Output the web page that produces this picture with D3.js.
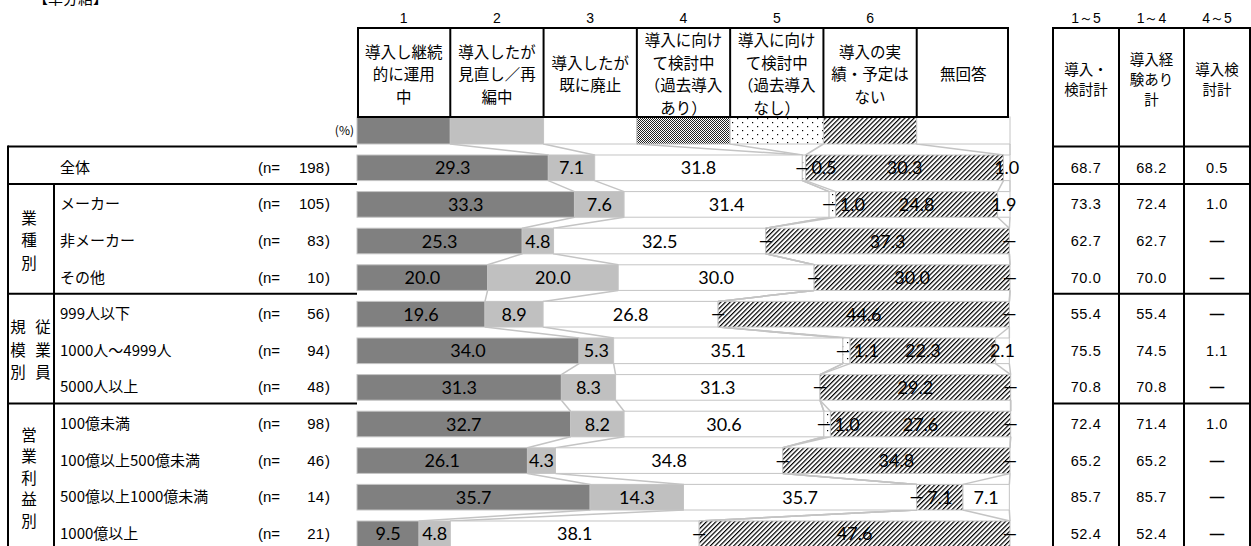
<!DOCTYPE html>
<html>
<head>
<meta charset="utf-8">
<script src="https://cdn.jsdelivr.net/npm/d3@7"></script>
<style>
  body { margin: 0; background: #fff; }
  svg { display: block; }
  .jp { font-family: "Noto Sans CJK JP", sans-serif; fill: #000; }
  .num { font-family: "Liberation Sans", Arial, sans-serif; fill: #000; }
  .val { font-family: Lato, "Open Sans", sans-serif; font-size: 18px; fill: #000; }
</style>
</head>
<body>
<div id="chart"></div>
<script>
// rows of the table (top to bottom)
const categories = ["全体", "メーカー", "非メーカー", "その他", "999人以下", "1000人～4999人", "5000人以上",
  "100億未満", "100億以上500億未満", "500億以上1000億未満", "1000億以上"];
const nValues = [198, 105, 83, 10, 56, 94, 48, 98, 46, 14, 21];

// answer shares (%) for each option
const s1 = [29.3, 33.3, 25.3, 20.0, 19.6, 34.0, 31.3, 32.7, 26.1, 35.7, 9.5];
const s2 = [7.1, 7.6, 4.8, 20.0, 8.9, 5.3, 8.3, 8.2, 4.3, 14.3, 4.8];
const s3 = [31.8, 31.4, 32.5, 30.0, 26.8, 35.1, 31.3, 30.6, 34.8, 35.7, 38.1];
const s4 = [0, 0, 0, 0, 0, 0, 0, 0, 0, 0, 0];
const s5 = [0.5, 1.0, 0, 0, 0, 1.1, 0, 1.0, 0, 0, 0];
const s6 = [30.3, 24.8, 37.3, 30.0, 44.6, 22.3, 29.2, 27.6, 34.8, 7.1, 47.6];
const s7 = [1.0, 1.9, 0, 0, 0, 2.1, 0, 0, 0, 7.1, 0];

// summary columns on the right (null = none)
const sum15 = [68.7, 73.3, 62.7, 70.0, 55.4, 75.5, 70.8, 72.4, 65.2, 85.7, 52.4];
const sum14 = [68.2, 72.4, 62.7, 70.0, 55.4, 74.5, 70.8, 71.4, 65.2, 85.7, 52.4];
const sum45 = [0.5, 1.0, null, null, null, 1.1, null, 1.0, null, null, null];

const optionNumbers = ["1", "2", "3", "4", "5", "6", ""];
const optionLabels = [
  ["導入し継続", "的に運用", "中"],
  ["導入したが", "見直し／再", "編中"],
  ["導入したが", "既に廃止"],
  ["導入に向け", "て検討中", "（過去導入", "あり）"],
  ["導入に向け", "て検討中", "（過去導入", "なし）"],
  ["導入の実", "績・予定は", "ない"],
  ["無回答"]
];
const sumNumbers = ["1～5", "1～4", "4～5"];
const sumLabels = [["導入・", "検討計"], ["導入経", "験あり", "計"], ["導入検", "討計"]];

const groups = [
  { cols: [["業", "種", "別"]], first: 1, last: 3 },
  { cols: [["規", "模", "別"], ["従", "業", "員"]], first: 4, last: 6 },
  { cols: [["営", "業", "利", "益", "別"]], first: 7, last: 10 }
];

const W = 1251, H = 546;
const series = [s1, s2, s3, s4, s5, s6, s7];
const fills = ["#808080", "#c0c0c0", "#ffffff", "url(#checker)", "url(#dots)", "url(#hatch)", "#ffffff"];

const svg = d3.select("#chart").append("svg")
  .attr("width", W).attr("height", H);

// patterns
const defs = svg.append("defs");
const checker = defs.append("pattern").attr("id", "checker")
  .attr("patternUnits", "userSpaceOnUse").attr("width", 2).attr("height", 2);
checker.append("rect").attr("width", 2).attr("height", 2).attr("fill", "#fff");
checker.append("rect").attr("width", 1).attr("height", 1).attr("fill", "#222");
checker.append("rect").attr("x", 1).attr("y", 1).attr("width", 1).attr("height", 1).attr("fill", "#222");

const dots = defs.append("pattern").attr("id", "dots")
  .attr("patternUnits", "userSpaceOnUse").attr("width", 10).attr("height", 8);
dots.append("rect").attr("width", 10).attr("height", 8).attr("fill", "#fff");
dots.append("rect").attr("x", 2).attr("y", 2).attr("width", 1.2).attr("height", 1.2).attr("fill", "#000");
dots.append("rect").attr("x", 7).attr("y", 6).attr("width", 1.2).attr("height", 1.2).attr("fill", "#000");

const hatch = defs.append("pattern").attr("id", "hatch")
  .attr("patternUnits", "userSpaceOnUse").attr("width", 3.3).attr("height", 3.3)
  .attr("patternTransform", "rotate(45)");
hatch.append("rect").attr("width", 3.3).attr("height", 3.3).attr("fill", "#fff");
hatch.append("line").attr("x1", 0.6).attr("y1", 0).attr("x2", 0.6).attr("y2", 3.3)
  .attr("stroke", "#000").attr("stroke-width", 1.2);

// scales
const x = d3.scaleLinear().domain([0, 100]).range([357, 1010]);
const y = d3.scaleBand().domain(d3.range(categories.length))
  .range([149.5, 552.1]).paddingInner(0.3).paddingOuter(0.15);
const bw = y.bandwidth();

// stacked data
const rows = categories.map((c, i) => {
  let acc = 0;
  const segs = series.map((s, k) => {
    const seg = { k: k, v: s[i], x0: acc, x1: acc + s[i] };
    acc += s[i];
    return seg;
  });
  return { i: i, segs: segs };
});

// legend row (equal cells under the header)
const legendTop = 117, legendBottom = 144;
const legendCells = d3.range(7).map(k => ({ k: k, x0: k * 100 / 7, x1: (k + 1) * 100 / 7 }));

// connector lines between neighbouring bars
const conn = svg.append("g");
const boundaries = d3.range(1, 8);
function rowEdges(r) { return r.segs.map(s => s.x1); }
boundaries.forEach(b => {
  conn.append("line")
    .attr("x1", x(legendCells[b - 1].x1)).attr("y1", legendBottom)
    .attr("x2", x(rowEdges(rows[0])[b - 1])).attr("y2", y(0))
    .attr("stroke", "#c4c4c4").attr("stroke-width", 1.5);
  for (let i = 0; i < rows.length - 1; i++) {
    conn.append("line")
      .attr("x1", x(rowEdges(rows[i])[b - 1])).attr("y1", y(i) + bw)
      .attr("x2", x(rowEdges(rows[i + 1])[b - 1])).attr("y2", y(i + 1))
      .attr("stroke", "#c4c4c4").attr("stroke-width", 1.5);
  }
});

// legend cells
svg.append("g").selectAll("rect").data(legendCells).join("rect")
  .attr("x", d => x(d.x0)).attr("y", legendTop)
  .attr("width", d => x(d.x1) - x(d.x0)).attr("height", legendBottom - legendTop)
  .attr("fill", d => fills[d.k]).attr("stroke", "#c4c4c4").attr("stroke-width", 1);

// bars
const barG = svg.append("g").selectAll("g").data(rows).join("g");
barG.selectAll("rect").data(r => r.segs.filter(s => s.v > 0).map(s => Object.assign({ i: r.i }, s)))
  .join("rect")
  .attr("x", d => x(d.x0)).attr("y", d => y(d.i))
  .attr("width", d => x(d.x1) - x(d.x0)).attr("height", bw)
  .attr("fill", d => fills[d.k]).attr("stroke", "#c4c4c4").attr("stroke-width", 1);

// value labels
rows.forEach(r => {
  const cy = y(r.i) + bw / 2;
  const seen = new Set();
  r.segs.forEach((s, k) => {
    if (s.v === 0) {
      const px = Math.round(x(s.x0));
      if (seen.has(px)) return;
      seen.add(px);
      svg.append("text").attr("class", "val").attr("text-anchor", "middle")
        .attr("x", x(s.x0)).attr("y", cy + 6).text("—");
    } else {
      let cx = (x(s.x0) + x(s.x1)) / 2;
      const prev = r.segs[k - 1];
      if (s.v < 2 && prev && prev.v === 0 && k < 6) cx += 20;
      svg.append("text").attr("class", "val").attr("text-anchor", "middle")
        .attr("x", cx).attr("y", cy + 6.5).text(s.v.toFixed(1));
    }
  });
});

// header box over the bars
const hdr = svg.append("g");
const hTop = 28;
legendCells.forEach((c, k) => {
  const cx = (x(c.x0) + x(c.x1)) / 2;
  hdr.append("text").attr("class", "num").attr("font-size", 14)
    .attr("text-anchor", "middle").attr("x", cx).attr("y", 23).text(optionNumbers[k]);
  const lines = optionLabels[k];
  const t = hdr.append("text").attr("class", "jp").attr("font-size", 15.5).attr("text-anchor", "middle");
  lines.forEach((l, j) => {
    t.append("tspan").attr("x", cx)
      .attr("y", 74.5 + (j - (lines.length - 1) / 2) * 22.5 + 5.5).text(l);
  });
});
hdr.append("rect").attr("x", x(0) + 1).attr("y", hTop)
  .attr("width", x(100) - x(0) - 3).attr("height", legendTop - hTop)
  .attr("fill", "none").attr("stroke", "#000").attr("stroke-width", 2);
d3.range(1, 7).forEach(k => {
  hdr.append("line").attr("x1", x(legendCells[k].x0)).attr("x2", x(legendCells[k].x0))
    .attr("y1", hTop).attr("y2", legendTop).attr("stroke", "#000").attr("stroke-width", 2);
});
svg.append("text").attr("class", "jp").attr("font-size", 12).attr("text-anchor", "end")
  .attr("x", 354).attr("y", 135).text("(%)");

// title (cut off at the top edge, as in the source)
svg.append("text").attr("class", "jp").attr("font-size", 15).attr("x", 33).attr("y", 4).text("【単分結】");

// left table
const tbl = svg.append("g");
const tTop = 146.5, tLeft = 8, tInner = 54, tRight = 357;
const divY = i => y(i) + bw + 3.3;
tbl.append("line").attr("x1", tLeft).attr("x2", tRight).attr("y1", tTop).attr("y2", tTop)
  .attr("stroke", "#000").attr("stroke-width", 2);
tbl.append("line").attr("x1", tLeft).attr("x2", tLeft).attr("y1", tTop - 1).attr("y2", H)
  .attr("stroke", "#000").attr("stroke-width", 2);
tbl.append("line").attr("x1", tInner).attr("x2", tInner).attr("y1", divY(0)).attr("y2", H)
  .attr("stroke", "#000").attr("stroke-width", 2);
[0, 3, 6].forEach(i => {
  tbl.append("line").attr("x1", tLeft).attr("x2", tRight).attr("y1", divY(i)).attr("y2", divY(i))
    .attr("stroke", "#000").attr("stroke-width", 2);
});

categories.forEach((c, i) => {
  const cy = y(i) + bw / 2;
  tbl.append("text").attr("class", "jp").attr("font-size", 15)
    .attr("x", 60).attr("y", cy + 5).text(c);
  tbl.append("text").attr("class", "num").attr("font-size", 15)
    .attr("x", 258).attr("y", cy + 5).text("(n=");
  tbl.append("text").attr("class", "num").attr("font-size", 15).attr("text-anchor", "end")
    .attr("x", 324).attr("y", cy + 5).text(nValues[i]);
  tbl.append("text").attr("class", "num").attr("font-size", 15)
    .attr("x", 325).attr("y", cy + 5).text(")");
});

groups.forEach(g => {
  const mid = (y(g.first) + y(g.last) + bw) / 2;
  const colX = g.cols.length === 1 ? [29] : [18, 43];
  const step = g.cols[0].length > 3 ? 21.5 : 22.5;
  g.cols.forEach((chars, ci) => {
    chars.forEach((ch, j) => {
      tbl.append("text").attr("class", "jp").attr("font-size", 15.5).attr("text-anchor", "middle")
        .attr("x", colX[ci]).attr("y", mid + (j - (chars.length - 1) / 2) * step + 5).text(ch);
    });
  });
});

// right summary table
const rt = svg.append("g");
const rCols = [1053, 1119, 1184, 1250];
rt.append("line").attr("x1", rCols[0]).attr("x2", rCols[3]).attr("y1", hTop).attr("y2", hTop)
  .attr("stroke", "#000").attr("stroke-width", 2);
rCols.forEach(cx => {
  rt.append("line").attr("x1", cx).attr("x2", cx).attr("y1", hTop - 1).attr("y2", H)
    .attr("stroke", "#000").attr("stroke-width", 2);
});
[tTop].concat([0, 3, 6].map(divY)).forEach(yy => {
  rt.append("line").attr("x1", rCols[0]).attr("x2", rCols[3]).attr("y1", yy).attr("y2", yy)
    .attr("stroke", "#000").attr("stroke-width", 2);
});
sumNumbers.forEach((s, k) => {
  const cx = (rCols[k] + rCols[k + 1]) / 2;
  rt.append("text").attr("class", "num").attr("font-size", 14).attr("text-anchor", "middle")
    .attr("x", cx).attr("y", 23).text(s);
  const lines = sumLabels[k];
  const t = rt.append("text").attr("class", "jp").attr("font-size", 14.5).attr("text-anchor", "middle");
  lines.forEach((l, j) => {
    t.append("tspan").attr("x", cx).attr("y", 80 + (j - (lines.length - 1) / 2) * 20 + 5).text(l);
  });
});
const sumCols = [sum15, sum14, sum45];
sumCols.forEach((col, k) => {
  const cx = (rCols[k] + rCols[k + 1]) / 2;
  col.forEach((v, i) => {
    const cy = y(i) + bw / 2;
    const t = rt.append("text").attr("font-size", 14.5)
      .attr("text-anchor", "middle").attr("x", cx).attr("y", cy + 5);
    if (v === null) {
      t.attr("class", "num").attr("font-weight", "bold").text("—");
    } else {
      t.attr("class", "num").attr("letter-spacing", 0.6).text(v.toFixed(1));
    }
  });
});
</script>
</body>
</html>
